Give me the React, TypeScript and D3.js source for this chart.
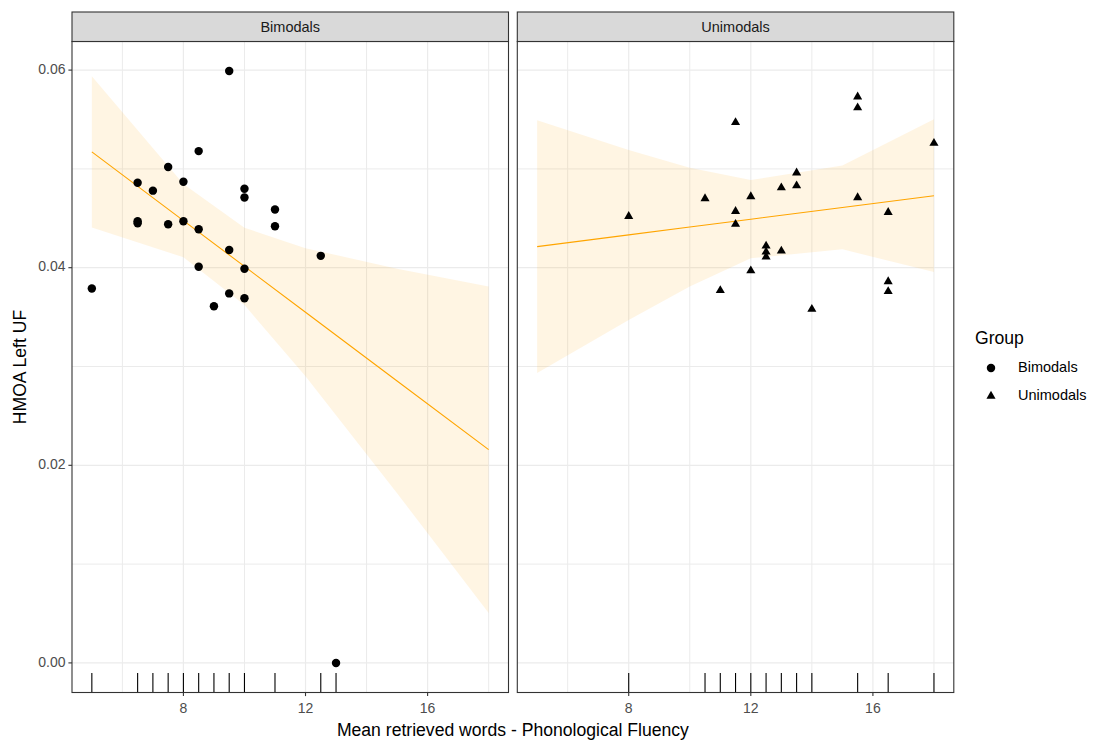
import React from "react";
import * as d3 from "d3";

// ---------------- data ----------------
const panelNames = ["Bimodals", "Unimodals"];
const bimodalWords = [5, 6.5, 6.5, 6.5, 7, 7.5, 7.5, 8, 8, 8.5, 8.5, 8.5, 9, 9.5, 9.5, 9.5, 10, 10, 10, 10, 11, 11, 12.5, 13];
const bimodalHMOA = [0.0379, 0.0486, 0.0447, 0.0445, 0.0478, 0.0502, 0.0444, 0.0487, 0.0447, 0.0518, 0.0439, 0.0401, 0.0361, 0.0599, 0.0418, 0.0374, 0.048, 0.0471, 0.0399, 0.0369, 0.0459, 0.0442, 0.0412, 0.0];
const unimodalWords = [8, 10.5, 11, 11.5, 11.5, 11.5, 12, 12, 12.5, 12.5, 12.5, 13, 13, 13.5, 13.5, 14, 15.5, 15.5, 15.5, 16.5, 16.5, 16.5, 18];
const unimodalHMOA = [0.0452, 0.047, 0.0377, 0.0547, 0.0457, 0.0444, 0.0472, 0.0397, 0.0422, 0.0416, 0.0411, 0.0481, 0.0417, 0.0496, 0.0483, 0.0358, 0.0573, 0.0562, 0.0471, 0.0456, 0.0386, 0.0376, 0.0526];
const xTicks = [8, 12, 16];
const xMinorTicks = [6, 10, 14, 18];
const yTicks = [0, 0.02, 0.04, 0.06];
const yMinorTicks = [0.01, 0.03, 0.05];
const smoothGrid = [5, 8, 10, 12, 15, 18];
const xTitle = "Mean retrieved words - Phonological Fluency";
const yTitle = "HMOA Left UF";
const legendTitle = "Group";

// ---------------- stats helpers ----------------
function lgamma(z: number): number {
  const g = 7;
  const c = [0.99999999999980993, 676.5203681218851, -1259.1392167224028, 771.32342877765313, -176.61502916214059, 12.507343278686905, -0.13857109526572012, 9.9843695780195716e-6, 1.5056327351493116e-7];
  if (z < 0.5) return Math.log(Math.PI / Math.sin(Math.PI * z)) - lgamma(1 - z);
  z -= 1;
  let x = c[0];
  for (let i = 1; i < g + 2; i++) x += c[i] / (z + i);
  const t = z + g + 0.5;
  return 0.5 * Math.log(2 * Math.PI) + (z + 0.5) * Math.log(t) - t + Math.log(x);
}
function tQuantile975(df: number): number {
  const norm = Math.exp(lgamma((df + 1) / 2) - lgamma(df / 2)) / Math.sqrt(df * Math.PI);
  const dens = (t: number) => norm * Math.pow(1 + (t * t) / df, -(df + 1) / 2);
  const integ = (b: number) => {
    const n = 400;
    const h = b / n;
    let s = dens(0) + dens(b);
    for (let i = 1; i < n; i++) s += (i % 2 ? 4 : 2) * dens(i * h);
    return (s * h) / 3;
  };
  let lo = 0, hi = 20;
  for (let k = 0; k < 60; k++) {
    const mid = (lo + hi) / 2;
    if (integ(mid) < 0.475) lo = mid; else hi = mid;
  }
  return (lo + hi) / 2;
}
function simpleFit(xs: number[], ys: number[]) {
  const n = xs.length;
  const xbar = d3.mean(xs)!;
  const ybar = d3.mean(ys)!;
  let sxx = 0, sxy = 0;
  xs.forEach((x, i) => { sxx += (x - xbar) ** 2; sxy += (x - xbar) * (ys[i] - ybar); });
  const b = sxy / sxx;
  const a = ybar - b * xbar;
  let sse = 0;
  xs.forEach((x, i) => { sse += (ys[i] - a - b * x) ** 2; });
  return { n, xbar, sxx, a, b, sse };
}
// interaction model y ~ x * group: separate lines, pooled residual variance
function fitBands(groups: { xs: number[]; ys: number[] }[]) {
  const fits = groups.map((g) => simpleFit(g.xs, g.ys));
  const sseTot = d3.sum(fits, (f) => f.sse);
  const df = d3.sum(fits, (f) => f.n) - 2 * fits.length;
  const s = Math.sqrt(sseTot / df);
  const tq = tQuantile975(df);
  return fits.map((f) =>
    smoothGrid.map((x) => {
      const fit = f.a + f.b * x;
      const se = s * Math.sqrt(1 / f.n + (x - f.xbar) ** 2 / f.sxx);
      return { x, fit, lo: fit - tq * se, hi: fit + tq * se };
    })
  );
}

// ---------------- layout ----------------
const W = 1096, H = 742;
const panelTop = 41.5, panelBottom = 692.5;
const stripTop = 12;
const panelLefts = [72, 517.3];
const panelWidth = 436.5;
const font = "'Liberation Sans', Arial, sans-serif";

export default function App() {
  const allX = [...bimodalWords, ...unimodalWords];
  const allY = [...bimodalHMOA, ...unimodalHMOA];
  const [x0, x1] = d3.extent(allX) as [number, number];
  const [y0, y1] = d3.extent(allY) as [number, number];
  const ex = (x1 - x0) * 0.05, ey = (y1 - y0) * 0.05;
  const yScale = d3.scaleLinear().domain([y0 - ey, y1 + ey]).range([panelBottom, panelTop]);

  const groups = [
    { name: panelNames[0], xs: bimodalWords, ys: bimodalHMOA },
    { name: panelNames[1], xs: unimodalWords, ys: unimodalHMOA },
  ];
  const bands = fitBands(groups);
  const circlePath = d3.symbol(d3.symbolCircle, 56)()!;
  const triPath = d3.symbol(d3.symbolTriangle, 36)()!;
  const rugLen = (panelBottom - panelTop) * 0.03;

  return (
    <svg width={W} height={H} style={{ position: "absolute", left: 0, top: 0, background: "#fff" }} fontFamily={font}>
      <rect x={0} y={0} width={W} height={H} fill="#fff" />
      {groups.map((g, gi) => {
        const left = panelLefts[gi];
        const xScale = d3.scaleLinear().domain([x0 - ex, x1 + ex]).range([left, left + panelWidth]);
        const band = bands[gi];
        const area = d3.area<any>().x((d) => xScale(d.x)).y0((d) => yScale(d.lo)).y1((d) => yScale(d.hi));
        const line = d3.line<any>().x((d) => xScale(d.x)).y((d) => yScale(d.fit));
        const rugVals = Array.from(new Set(g.xs));
        const sym = gi === 0 ? circlePath : triPath;
        return (
          <g key={g.name}>
            <defs>
              <clipPath id={`clip${gi}`}>
                <rect x={left} y={panelTop} width={panelWidth} height={panelBottom - panelTop} />
              </clipPath>
            </defs>
            <rect x={left} y={panelTop} width={panelWidth} height={panelBottom - panelTop} fill="#fff" />
            {yMinorTicks.map((t) => (
              <line key={"ym" + t} x1={left} x2={left + panelWidth} y1={yScale(t)} y2={yScale(t)} stroke="#EBEBEB" strokeWidth={1} />
            ))}
            {xMinorTicks.map((t) => (
              <line key={"xm" + t} x1={xScale(t)} x2={xScale(t)} y1={panelTop} y2={panelBottom} stroke="#EBEBEB" strokeWidth={1} />
            ))}
            {yTicks.map((t) => (
              <line key={"y" + t} x1={left} x2={left + panelWidth} y1={yScale(t)} y2={yScale(t)} stroke="#EBEBEB" strokeWidth={1.2} />
            ))}
            {xTicks.map((t) => (
              <line key={"x" + t} x1={xScale(t)} x2={xScale(t)} y1={panelTop} y2={panelBottom} stroke="#EBEBEB" strokeWidth={1.2} />
            ))}
            <g clipPath={`url(#clip${gi})`}>
              <path d={area(band)!} fill="#FFA500" fillOpacity={0.11} />
              <path d={line(band)!} fill="none" stroke="#FFA500" strokeWidth={1.1} />
              {rugVals.map((v) => (
                <line key={"r" + v} x1={xScale(v)} x2={xScale(v)} y1={panelBottom} y2={panelBottom - rugLen} stroke="#000" strokeWidth={1.1} />
              ))}
              {g.xs.map((x, i) => (
                <path key={"p" + i} d={sym} transform={`translate(${xScale(x)},${yScale(g.ys[i])})`} fill="#000" />
              ))}
            </g>
            <rect x={left} y={panelTop} width={panelWidth} height={panelBottom - panelTop} fill="none" stroke="#333333" strokeWidth={1.1} />
            <rect x={left} y={stripTop} width={panelWidth} height={panelTop - stripTop} fill="#D9D9D9" stroke="#333333" strokeWidth={1.1} />
            <text x={left + panelWidth / 2} y={(stripTop + panelTop) / 2 + 1} textAnchor="middle" dominantBaseline="middle" fontSize={14.5} fill="#1A1A1A">
              {g.name}
            </text>
            {xTicks.map((t) => (
              <g key={"xt" + t}>
                <line x1={xScale(t)} x2={xScale(t)} y1={panelBottom} y2={panelBottom + 3.6} stroke="#333333" strokeWidth={1.1} />
                <text x={xScale(t)} y={panelBottom + 17} textAnchor="middle" dominantBaseline="middle" fontSize={14} fill="#4D4D4D">
                  {t}
                </text>
              </g>
            ))}
          </g>
        );
      })}
      {yTicks.map((t) => (
        <g key={"yt" + t}>
          <line x1={panelLefts[0] - 3.6} x2={panelLefts[0]} y1={yScale(t)} y2={yScale(t)} stroke="#333333" strokeWidth={1.1} />
          <text x={panelLefts[0] - 6.5} y={yScale(t)} textAnchor="end" dominantBaseline="middle" fontSize={14} fill="#4D4D4D">
            {d3.format(".2f")(t)}
          </text>
        </g>
      ))}
      <text x={(panelLefts[0] + panelLefts[1] + panelWidth) / 2} y={731} textAnchor="middle" dominantBaseline="middle" fontSize={17.6} fill="#000">
        {xTitle}
      </text>
      <text transform={`translate(21,${(panelTop + panelBottom) / 2}) rotate(-90)`} textAnchor="middle" dominantBaseline="middle" fontSize={17.6} fill="#000">
        {yTitle}
      </text>
      <text x={975} y={339} dominantBaseline="middle" fontSize={17.6} fill="#000">{legendTitle}</text>
      {panelNames.map((nm, i) => (
        <g key={"lg" + nm} transform={`translate(0,${368 + i * 28})`}>
          <path d={i === 0 ? circlePath : triPath} transform="translate(991,0)" fill="#000" />
          <text x={1018} y={0} dominantBaseline="middle" fontSize={14.5} fill="#000">{nm}</text>
        </g>
      ))}
    </svg>
  );
}
